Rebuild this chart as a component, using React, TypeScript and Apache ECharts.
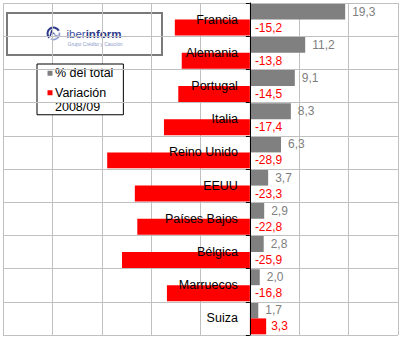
import React, { useEffect, useRef } from "react";
import * as echarts from "echarts";

const categories = [
  "Francia",
  "Alemania",
  "Portugal",
  "Italia",
  "Reino Unido",
  "EEUU",
  "Países Bajos",
  "Bélgica",
  "Marruecos",
  "Suiza",
];
const shareTotal = [19.3, 11.2, 9.1, 8.3, 6.3, 3.7, 2.9, 2.8, 2.0, 1.7];
const variation = [-15.2, -13.8, -14.5, -17.4, -28.9, -23.3, -22.8, -25.9, -16.8, 3.3];
const seriesNames = ["% del total", "Variación 2008/09"];
const xMin = -50;
const xMax = 30;
const xStep = 10;

const FONT = "'Liberation Sans', Arial, sans-serif";
const fmt = (p: any) => Number(p.value).toFixed(1).replace(".", ",");

const GRID_LEFT = 3;
const GRID_RIGHT = 2;
const W = 400;
const zeroOffset = ((0 - xMin) / (xMax - xMin)) * (W - GRID_LEFT - GRID_RIGHT);

export default function App() {
  const ref = useRef<HTMLDivElement>(null);
  useEffect(() => {
    if (!ref.current) return;
    const chart = echarts.init(ref.current, null, { renderer: "svg" });
    chart.setOption({
      animation: false,
      backgroundColor: "#ffffff",
      textStyle: { fontFamily: FONT },
      grid: {
        left: GRID_LEFT,
        right: GRID_RIGHT,
        top: 3,
        bottom: 5,
        containLabel: false,
        outerBoundsMode: "none",
      },
      xAxis: {
        type: "value",
        min: xMin,
        max: xMax,
        interval: xStep,
        axisLabel: { show: false },
        axisLine: { show: false },
        axisTick: { show: false },
        splitLine: { show: true, lineStyle: { color: "#c0c0c0", width: 1 } },
      },
      yAxis: {
        type: "category",
        inverse: true,
        data: categories,
        offset: -zeroOffset,
        axisLine: { show: true, onZero: false, lineStyle: { color: "#000", width: 1 } },
        axisTick: { show: true, length: 4, lineStyle: { color: "#000" } },
        axisLabel: { color: "#000", fontSize: 12.5, fontFamily: FONT, margin: 12 },
        splitLine: { show: true, lineStyle: { color: "#c0c0c0", width: 1 } },
        z: 5,
      },
      legend: {
        orient: "vertical",
        left: 37,
        top: 64,
        backgroundColor: "#fff",
        borderColor: "#000",
        borderWidth: 1,
        borderRadius: 0,
        padding: [2, 10, 1, 10.5],
        itemWidth: 5,
        itemHeight: 5,
        itemGap: 5,
        formatter: (name: string) =>
          name === seriesNames[1]
            ? name
                .split(" ")
                .map((s) => "{t|" + s + "}")
                .join("\n")
            : name,
        textStyle: {
          fontSize: 12.5,
          color: "#000",
          fontFamily: FONT,
          lineHeight: 14.5,
          padding: [0, 0, 0, -2.5],
        },
        data: [
          { name: seriesNames[0], icon: "rect" },
          {
            name: seriesNames[1],
            icon: "rect",
            textStyle: {
              padding: [0, 0, -14.5, -2.5],
              rich: {
                t: { fontSize: 12.5, color: "#000", fontFamily: FONT, lineHeight: 14.5 },
              },
            },
          },
        ],
      },
      graphic: [
        {
          type: "group",
          z: 100,
          children: [
            {
              type: "rect",
              shape: { x: 7, y: 13, width: 155, height: 42 },
              style: { fill: "#fff", stroke: "#7a7a7a", lineWidth: 2 },
            },
            {
              type: "arc",
              shape: { cx: 53.5, cy: 33.5, r: 6, startAngle: Math.PI * 0.75, endAngle: Math.PI * 1.85, clockwise: true },
              style: { stroke: "#2d3a8a", lineWidth: 2, fill: null },
            },
            {
              type: "arc",
              shape: { cx: 53.5, cy: 33.5, r: 6, startAngle: Math.PI * 1.95, endAngle: Math.PI * 0.65, clockwise: true },
              style: { stroke: "#8d9bd0", lineWidth: 1.6, fill: null },
            },
            {
              type: "polyline",
              shape: { points: [[50, 37], [51.5, 31], [53.5, 34]] },
              style: { stroke: "#2d3a8a", lineWidth: 1.4, fill: null },
            },
            {
              type: "polyline",
              shape: { points: [[54, 33], [56, 36.5], [57.5, 35]] },
              style: { stroke: "#8d9bd0", lineWidth: 1.2, fill: null },
            },
            {
              type: "text",
              style: {
                x: 66.5,
                y: 34,
                text: "{a|iber}{b|inform}",
                verticalAlign: "middle",
                align: "left",
                rich: {
                  a: { fontSize: 11.5, fontFamily: FONT, fill: "#4151a3", fontWeight: "normal" },
                  b: { fontSize: 11.5, fontFamily: FONT, fill: "#2d3a8a", fontWeight: "bold" },
                },
              },
            },
            {
              type: "text",
              style: {
                x: 67.5,
                y: 44.3,
                text: "Grupo Crédito y Caución",
                verticalAlign: "middle",
                align: "left",
                fontSize: 5,
                fontFamily: FONT,
                fill: "#8c9bc9",
              },
            },
          ],
        },
      ],
      series: [
        {
          name: seriesNames[0],
          type: "bar",
          data: shareTotal,
          barGap: "0%",
          barCategoryGap: "4%",
          itemStyle: { color: "#808080" },
          label: {
            show: true,
            position: "right",
            distance: 7,
            color: "#808080",
            fontSize: 12,
            fontFamily: FONT,
            formatter: fmt,
          },
        },
        {
          name: seriesNames[1],
          type: "bar",
          data: variation,
          barGap: "0%",
          barCategoryGap: "4%",
          itemStyle: { color: "#ff0000" },
          label: {
            show: true,
            position: "right",
            distance: 5,
            color: "#ff0000",
            fontSize: 12,
            fontFamily: FONT,
            formatter: fmt,
          },
        },
      ],
    });
    return () => chart.dispose();
  }, []);
  return (
    <div
      ref={ref}
      style={{ position: "absolute", left: 0, top: 0, width: 400, height: 340 }}
    />
  );
}
